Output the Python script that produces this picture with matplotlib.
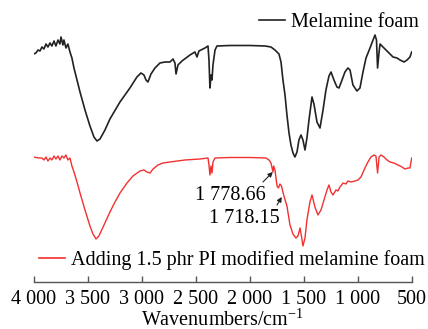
import numpy as np
import matplotlib.pyplot as plt
from matplotlib.lines import Line2D

plt.rcParams['font.family'] = ['Liberation Serif', 'DejaVu Serif']
plt.rcParams['mathtext.fontset'] = 'custom'
plt.rcParams['mathtext.rm'] = 'Liberation Serif'
plt.rcParams['mathtext.it'] = 'Liberation Serif:italic'

# FTIR spectra (transmittance, arbitrary units, red curve offset below black)
wn_mf = [4000, 3979, 3960, 3942, 3923, 3905, 3886, 3868, 3849, 3831, 3812, 3794, 3775, 3757,
         3747, 3729, 3720, 3701, 3683, 3664, 3646, 3627, 3599, 3571, 3525, 3479, 3442, 3414,
         3386, 3340, 3294, 3201, 3109, 3044, 3007, 2979, 2960, 2942, 2914, 2877, 2831, 2784,
         2738, 2710, 2692, 2682, 2664, 2627, 2553, 2507, 2488, 2470, 2414, 2386, 2377, 2368,
         2358, 2349, 2340, 2321, 2303, 2183, 1997, 1858, 1803, 1766, 1729, 1710, 1692, 1673,
         1655, 1636, 1618, 1599, 1581, 1562, 1544, 1525, 1507, 1488, 1470, 1451, 1423, 1405,
         1377, 1349, 1321, 1294, 1266, 1247, 1220, 1192, 1173, 1145, 1118, 1090, 1071, 1044,
         1007, 979, 951, 923, 886, 858, 840, 826, 816, 802, 793, 766, 738, 701, 673, 636, 608,
         571, 543, 516, 500]
t_mf = [228, 229, 232, 231, 235, 233, 238, 235, 239, 236, 241, 236, 242, 238,
        245, 237, 242, 234, 238, 230, 224, 214, 202, 190, 172, 156, 145, 141,
        143, 152, 163, 180, 194, 205, 209, 207, 202, 200, 208, 214, 219, 220,
        220, 223, 219, 208, 217, 221, 227, 230, 225, 231, 234, 236, 222, 194,
        207, 202, 217, 232, 236, 236.5, 236.5, 236, 235, 232, 228, 220, 202, 187,
        167, 149, 137, 129, 125, 130, 142, 147, 142, 132, 144, 162, 185, 178,
        160, 154, 172, 192, 206, 210, 202, 195, 194, 202, 210, 214, 212, 197,
        191, 194, 210, 224, 234, 242, 247, 242, 214, 230, 238, 235, 232, 228, 225, 224, 222,
        220, 222, 225, 230]

wn_pi = [4000, 3979, 3951, 3923, 3905, 3886, 3868, 3849, 3831, 3812, 3794, 3775, 3757, 3738,
         3720, 3701, 3683, 3664, 3646, 3627, 3599, 3571, 3525, 3479, 3451, 3423, 3396, 3349,
         3294, 3247, 3201, 3136, 3081, 3016, 2979, 2951, 2923, 2895, 2849, 2803, 2738, 2599,
         2460, 2386, 2377, 2368, 2358, 2349, 2340, 2321, 2183, 1997, 1849, 1821, 1803, 1784,
         1778, 1766, 1747, 1734, 1720, 1706, 1683, 1655, 1627, 1599, 1572, 1553, 1534, 1521,
         1507, 1488, 1470, 1442, 1423, 1396, 1368, 1340, 1312, 1284, 1266, 1247, 1229, 1201,
         1183, 1164, 1136, 1109, 1090, 1062, 1025, 997, 970, 933, 905, 877, 849, 831, 816,
         802, 784, 757, 729, 701, 664, 627, 590, 562, 534, 516, 500]
t_pi = [125, 124.5, 124, 124, 122, 125, 121, 124, 122, 126, 123, 126, 122, 126,
        124, 127, 122, 124, 116, 110, 100, 89, 72, 56, 48, 43, 46, 57,
        70, 80, 89, 99, 106, 111, 112, 110, 109, 113, 117, 119, 120, 122,
        123, 124, 117, 107, 116, 109, 120, 124, 124.5, 124.5, 124, 122, 119, 110,
        116, 112, 96, 94, 98, 96, 86, 76, 57, 48, 44, 46, 54, 46,
        36, 44, 62, 80, 87, 75, 67, 72, 82, 92, 97, 90, 87, 92,
        91, 95, 99, 98, 101, 100, 101, 102, 105, 114, 120, 125, 127, 126, 109,
        125, 127, 125, 122, 120, 119, 117, 115, 113, 114, 114, 124]

xticks = [4000, 3500, 3000, 2500, 2000, 1500, 1000, 500]
xtick_labels = ['4 000', '3 500', '3 000', '2 500', '2 000', '1 500', '1 000', '500']

fs = 14.5
fig = plt.figure(figsize=(4.28, 3.29), dpi=100)
ax = fig.add_axes([0.0787, 0.1429, 0.8832, 0.8571])

black = '#222222'
red = '#f23030'
ax.plot(wn_mf, t_mf, color=black, lw=1.2)
ax.plot(wn_pi, t_pi, color=red, lw=1.0)

ax.set_xlim(4000, 500)
ax.set_ylim(0, 282)

for s in ['left', 'right', 'top']:
    ax.spines[s].set_visible(False)
ax.spines['bottom'].set_color('#555555')
ax.spines['bottom'].set_linewidth(1.0)
ax.set_yticks([])
ax.set_xticks(xticks)
ax.set_xticklabels(xtick_labels, fontsize=fs)
ax.tick_params(axis='x', direction='in', length=4, width=1.0, color='#555555', pad=6)
ax.set_xlabel(r'Wavenumbers/cm$^{-1}$', fontsize=fs, labelpad=0)

# peak annotations
arrow = dict(arrowstyle='-|>', color=black, lw=0.8, mutation_scale=7, shrinkA=0, shrinkB=0)
ax.annotate('', xy=(1786, 110), xytext=(1877, 100), arrowprops=arrow)
ax.annotate('', xy=(1703, 85), xytext=(1747, 77), arrowprops=arrow)
ax.text(1849, 86, '1 778.66', fontsize=fs, ha='right', va='center')
ax.text(1720, 63, '1 718.15', fontsize=fs, ha='right', va='center')

fig.legend(handles=[Line2D([], [], color=black, lw=1.2)], labels=['Melamine foam'],
           loc='center right', bbox_to_anchor=(419 / 428, 1 - 22.7 / 329),
           frameon=False, fontsize=fs, handlelength=1.3, handletextpad=0.3,
           borderpad=0, borderaxespad=0)
fig.legend(handles=[Line2D([], [], color=red, lw=1.2)],
           labels=['Adding 1.5 phr PI modified melamine foam'],
           loc='center left', bbox_to_anchor=(39 / 428, 1 - 260 / 329),
           frameon=False, fontsize=fs, handlelength=1.3, handletextpad=0.3,
           borderpad=0, borderaxespad=0)

fig.savefig('out.png', dpi=100)
